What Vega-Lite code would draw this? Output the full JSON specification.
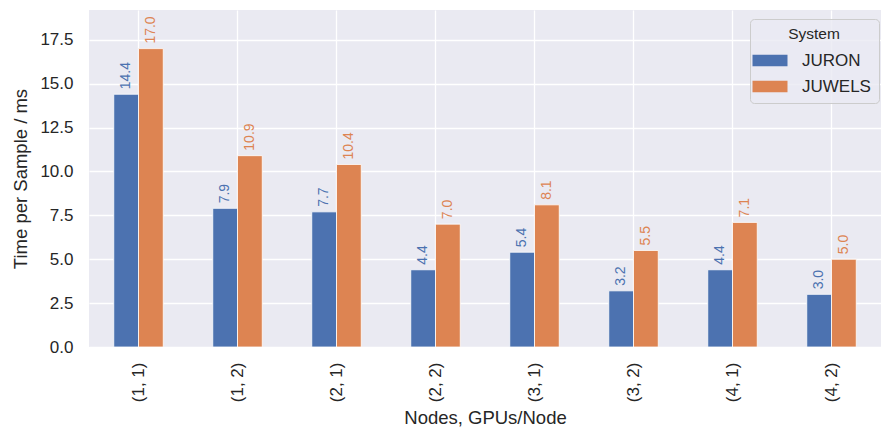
{
  "$schema": "https://vega.github.io/schema/vega-lite/v6.json",
  "width": 792,
  "height": 337,
  "autosize": {"type": "none"},
  "padding": {"left": 89, "top": 10, "right": 0, "bottom": 81},
  "background": "white",
  "config": {
    "font": "Liberation Sans",
    "view": {"fill": "#eaeaf2", "stroke": null},
    "axis": {"domain": false, "ticks": false, "gridColor": "white", "gridWidth": 1.3, "labelFontSize": 17, "titleFontSize": 18.5, "labelColor": "#262626", "titleColor": "#262626", "titleFontWeight": "normal"}
  },
  "data": {"values": [
    {"cfg": "(1, 1)", "System": "JURON", "t": 14.4},
    {"cfg": "(1, 1)", "System": "JUWELS", "t": 17.0},
    {"cfg": "(1, 2)", "System": "JURON", "t": 7.9},
    {"cfg": "(1, 2)", "System": "JUWELS", "t": 10.9},
    {"cfg": "(2, 1)", "System": "JURON", "t": 7.7},
    {"cfg": "(2, 1)", "System": "JUWELS", "t": 10.4},
    {"cfg": "(2, 2)", "System": "JURON", "t": 4.4},
    {"cfg": "(2, 2)", "System": "JUWELS", "t": 7.0},
    {"cfg": "(3, 1)", "System": "JURON", "t": 5.4},
    {"cfg": "(3, 1)", "System": "JUWELS", "t": 8.1},
    {"cfg": "(3, 2)", "System": "JURON", "t": 3.2},
    {"cfg": "(3, 2)", "System": "JUWELS", "t": 5.5},
    {"cfg": "(4, 1)", "System": "JURON", "t": 4.4},
    {"cfg": "(4, 1)", "System": "JUWELS", "t": 7.1},
    {"cfg": "(4, 2)", "System": "JURON", "t": 3.0},
    {"cfg": "(4, 2)", "System": "JUWELS", "t": 5.0}
  ]},
  "encoding": {
    "x": {"field": "cfg", "type": "nominal", "sort": null,
      "scale": {"paddingInner": 0.5, "paddingOuter": 0.25},
      "axis": {"title": "Nodes, GPUs/Node", "labelAngle": -90, "labelAlign": "right", "labelBaseline": "middle", "labelPadding": 15, "bandPosition": 0.5, "grid": true, "titlePadding": 7}},
    "xOffset": {"field": "System", "type": "nominal", "scale": {"paddingInner": 0, "paddingOuter": 0}},
    "y": {"field": "t", "type": "quantitative",
      "scale": {"domain": [0, 19.2], "nice": false},
      "axis": {"title": "Time per Sample / ms", "values": [0, 2.5, 5, 7.5, 10, 12.5, 15, 17.5], "format": ".1f", "labelPadding": 16, "titlePadding": 9}},
    "color": {"field": "System", "type": "nominal",
      "scale": {"domain": ["JURON", "JUWELS"], "range": ["#4c72b0", "#dd8452"]},
      "legend": {"orient": "none", "legendX": 661, "legendY": 9, "title": "System", "titleFontSize": 15.5, "titleFontWeight": "normal", "titleAnchor": "middle", "titleColor": "#262626", "labelFontSize": 17, "labelColor": "#262626", "symbolType": "M-1.5,-0.5H1.5V0.5H-1.5Z", "symbolSize": 544, "symbolStrokeWidth": 0, "symbolOpacity": 1, "fillColor": "rgba(234,234,242,0.8)", "strokeColor": "#cccccc", "cornerRadius": 4, "padding": 8, "rowPadding": 6, "titlePadding": 6, "labelOffset": 20, "offset": 0}}
  },
  "layer": [
    {"mark": {"type": "bar", "stroke": "white", "strokeWidth": 0.8}},
    {"mark": {"type": "text", "angle": 270, "align": "left", "baseline": "middle", "dx": 5, "fontSize": 14},
      "encoding": {"text": {"field": "t", "type": "quantitative", "format": ".1f"}}}
  ]
}
